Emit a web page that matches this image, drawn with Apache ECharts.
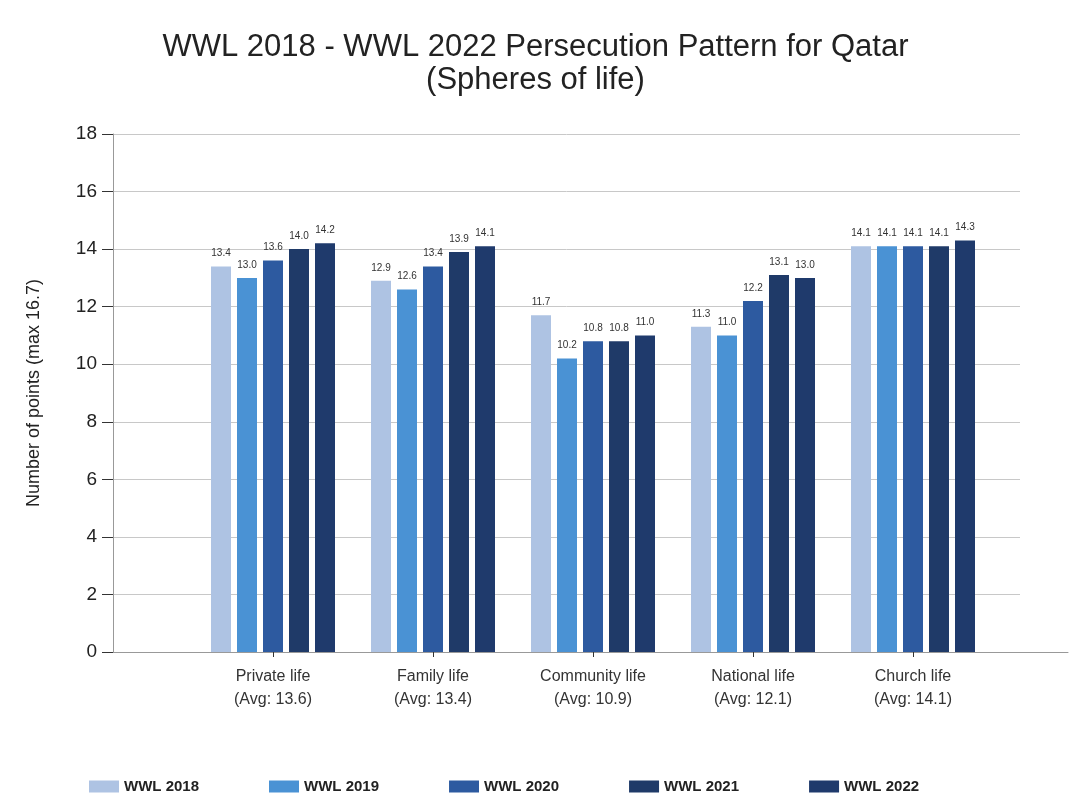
<!DOCTYPE html>
<html>
<head>
<meta charset="utf-8">
<script src="https://cdn.jsdelivr.net/npm/echarts@6/dist/echarts.min.js"></script>
<style>html,body{margin:0;padding:0;background:#fff;}#c{width:1071px;height:799px;}</style>
</head>
<body>
<div id="c"></div>
<script>
const categories = ['Private life\n(Avg: 13.6)', 'Family life\n(Avg: 13.4)', 'Community life\n(Avg: 10.9)', 'National life\n(Avg: 12.1)', 'Church life\n(Avg: 14.1)'];
const seriesNames = ['WWL 2018', 'WWL 2019', 'WWL 2020', 'WWL 2021', 'WWL 2022'];
const wwl2018 = [13.4, 12.9, 11.7, 11.3, 14.1];
const wwl2019 = [13.0, 12.6, 10.2, 11.0, 14.1];
const wwl2020 = [13.6, 13.4, 10.8, 12.2, 14.1];
const wwl2021 = [14.0, 13.9, 10.8, 13.1, 14.1];
const wwl2022 = [14.2, 14.1, 11.0, 13.0, 14.3];
const yTicks = { min: 0, max: 18, interval: 2 };

const colors = ['#aec3e3', '#4a92d4', '#2d5aa0', '#1f3a68', '#1f3a6c'];
const values = [wwl2018, wwl2019, wwl2020, wwl2021, wwl2022];
const FONT = 'Liberation Sans, Arial, sans-serif';

const chart = echarts.init(document.getElementById('c'), null, { renderer: 'canvas' });
chart.setOption({
  backgroundColor: '#ffffff',
  animation: false,
  color: colors,
  title: {
    text: 'WWL 2018 - WWL 2022 Persecution Pattern for Qatar\n(Spheres of life)',
    left: 'center',
    top: 26,
    textStyle: { fontFamily: FONT, fontSize: 31, fontWeight: 'normal', color: '#222', lineHeight: 33 }
  },
  legend: {
    data: seriesNames,
    bottom: 0,
    left: 84,
    itemWidth: 30,
    itemHeight: 12,
    itemGap: 70,
    icon: 'rect',
    textStyle: { fontFamily: FONT, fontSize: 15, fontWeight: 'bold', color: '#222' }
  },
  grid: [
    { left: 113, right: 51, top: 134, bottom: 147 },
    { left: 193, right: 78, top: 134, bottom: 147 },
    { left: 113, right: 3, top: 134, bottom: 147 }
  ],
  xAxis: [
    { type: 'value', gridIndex: 0, min: 0, max: 1, show: true, axisLine: { show: false }, axisTick: { show: false }, axisLabel: { show: false }, splitLine: { show: false } },
    {
      type: 'category', gridIndex: 1, data: categories,
      axisLine: { show: false },
      axisTick: { show: true, alignWithLabel: true, length: 5, lineStyle: { color: '#333' } },
      axisLabel: { fontFamily: FONT, fontSize: 16, color: '#333', lineHeight: 23, margin: 13 }
    },
    { type: 'value', gridIndex: 2, min: 0, max: 1, axisLine: { show: true, lineStyle: { color: '#999', width: 1 } }, axisTick: { show: false }, axisLabel: { show: false }, splitLine: { show: false } }
  ],
  yAxis: [
    {
      type: 'value', gridIndex: 0, min: yTicks.min, max: yTicks.max, interval: yTicks.interval,
      name: 'Number of points (max 16.7)',
      nameLocation: 'middle', nameGap: 70,
      nameTextStyle: { fontFamily: FONT, fontSize: 18, color: '#222' },
      axisLine: { show: true, lineStyle: { color: '#999' } },
      axisTick: { show: true, length: 11, lineStyle: { color: '#333' } },
      axisLabel: { fontFamily: FONT, fontSize: 19, color: '#222', margin: 16 },
      splitLine: { show: true, lineStyle: { color: '#c8c8c8', width: 1 } }
    },
    { type: 'value', gridIndex: 1, min: yTicks.min, max: yTicks.max, interval: yTicks.interval, show: false },
    { type: 'value', gridIndex: 2, min: yTicks.min, max: yTicks.max, interval: yTicks.interval, show: false }
  ],
  series: seriesNames.map((name, i) => ({
    name: name,
    type: 'bar',
    xAxisIndex: 1,
    yAxisIndex: 1,
    data: values[i],
    barWidth: 20,
    barGap: '30%',
    itemStyle: { color: colors[i] },
    label: {
      show: true, position: 'top', distance: 8,
      fontFamily: FONT, fontSize: 10, color: '#333',
      formatter: p => p.value.toFixed(1)
    }
  }))
});
</script>
</body>
</html>
